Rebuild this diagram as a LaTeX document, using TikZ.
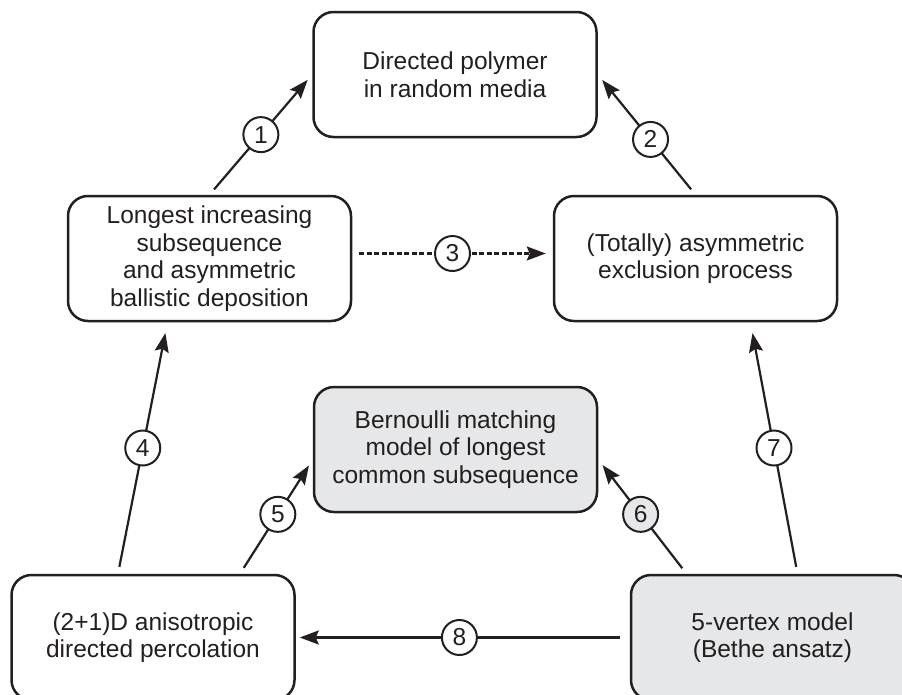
\documentclass[tikz,border=0pt]{standalone}
\usepackage{fontspec}
\setmainfont{Liberation Sans}
\usetikzlibrary{arrows.meta}
\definecolor{ink}{HTML}{231F20}
\definecolor{boxgray}{HTML}{E6E7E8}
\tikzset{
	topic/.style={draw=ink, line width=2.5pt, rounded corners=20pt, minimum width=283pt, minimum height=125pt, align=center, inner sep=0pt, text=ink, font=\fontsize{24.5}{27.5}\selectfont},
	shaded/.style={topic, fill=boxgray},
	link/.style={draw=ink, line width=2.2pt, -{Stealth[length=19pt,width=14pt,inset=3pt]}, shorten <=7pt, shorten >=7pt},
	num/.style={circle, solid, draw=ink, fill=white, line width=2pt, minimum size=35pt, inner sep=0pt, text=ink, font=\fontsize{24.5}{24.5}\selectfont}
}

\begin{document}
\begin{tikzpicture}[x=1pt, y=-1pt]
		%%%%% START %%%%%
		
		\useasboundingbox (0,0) rectangle (902,694);
		\clip (0,0) rectangle (902,694);
		
		\node[topic] (dpr) at (455,74.5) {Directed polymer\\in random media};
		\node[topic] (lis) at (209.5,258.5) {Longest increasing\\subsequence\\and asymmetric\\ballistic deposition};
		\node[topic] (tasep) at (695.5,258.5) {(Totally) asymmetric\\exclusion process};
		\node[shaded] (bm) at (455.5,449.5) {Bernoulli matching\\model of longest\\common subsequence};
		\node[topic] (perc) at (153,637.5) {(2+1)D anisotropic\\directed percolation};
		\node[shaded] (vtx) at (772.5,637.5) {5-vertex model\\(Bethe ansatz)};
		
		\draw[link] (lis.north) -- node[num] {1} (dpr.west);
		\draw[link] (tasep.north) -- node[num, pos=0.46] {2} (dpr.east);
		\draw[link, dash pattern=on 5pt off 2.5pt] ([yshift=5pt]lis.east) -- node[num] {3} ([yshift=5pt]tasep.west);
		
		\draw[link, shorten >=11pt] ([xshift=-35pt]perc.north) -- node[num] {4} ([xshift=-42pt]lis.south);
		\draw[link] ([xshift=87pt]perc.north) -- node[num, pos=0.52] {5} ([yshift=-10pt]bm.west);
		\draw[link] ([xshift=-86pt]vtx.north) -- node[num, fill=boxgray, pos=0.52] {6} ([yshift=-10pt]bm.east);
		\draw[link, shorten >=11pt] ([xshift=25pt]vtx.north) -- node[num] {7} ([xshift=55pt]tasep.south);
		
		\draw[link, shorten <=10pt, shorten >=4pt] (vtx.west) -- node[num, pos=0.51] {8} (perc.east);
		
		%%%%% END %%%%%
\end{tikzpicture}
\end{document}
